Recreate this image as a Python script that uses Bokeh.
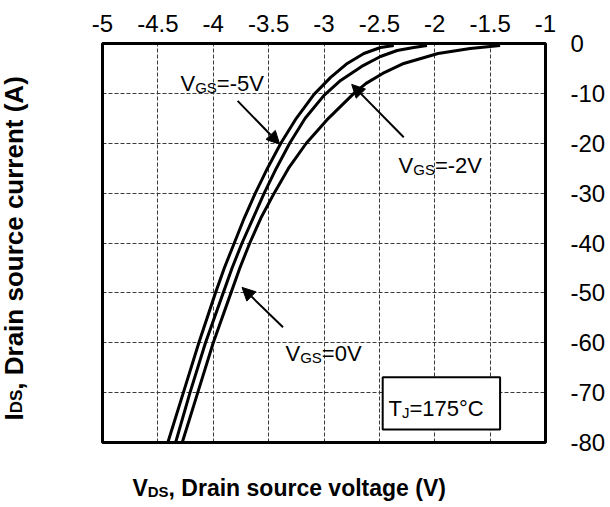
import math
from bokeh.plotting import figure
from bokeh.models import Range1d, FixedTicker, Label, Arrow, NormalHead, BoxAnnotation
from bokeh.embed import file_html
from bokeh.resources import INLINE

# ---------------- data ----------------
x_ticks = [-5.0, -4.5, -4.0, -3.5, -3.0, -2.5, -2.0, -1.5, -1.0]
x_tick_labels = ["-5", "-4.5", "-4", "-3.5", "-3", "-2.5", "-2", "-1.5", "-1"]
y_ticks = [0.0, -10.0, -20.0, -30.0, -40.0, -50.0, -60.0, -70.0, -80.0]
y_tick_labels = ["0", "-10", "-20", "-30", "-40", "-50", "-60", "-70", "-80"]

# VGS = -5 V (leftmost curve)
vgs_m5_v = [-2.37, -2.49, -2.64, -2.79, -2.94, -3.09, -3.25, -3.39, -3.51, -3.62, -3.72, -3.81, -3.90, -3.98, -4.13, -4.27, -4.41]
vgs_m5_i = [-0.4, -0.8, -2.0, -4.0, -6.8, -10.2, -15.0, -20.0, -25.0, -30.0, -35.0, -40.0, -45.0, -50.0, -60.0, -70.0, -80.0]
# VGS = -2 V (middle curve)
vgs_m2_v = [-2.07, -2.19, -2.34, -2.49, -2.66, -2.85, -3.00, -3.17, -3.31, -3.43, -3.54, -3.64, -3.74, -3.83, -3.91, -4.07, -4.21, -4.34]
vgs_m2_i = [-0.4, -0.8, -1.4, -2.6, -4.6, -7.4, -10.4, -15.0, -20.0, -25.0, -30.0, -35.0, -40.0, -45.0, -50.0, -60.0, -70.0, -80.0]
# VGS = 0 V (rightmost curve)
vgs_0_v = [-1.41, -1.68, -1.97, -2.28, -2.47, -2.62, -2.73, -2.96, -3.16, -3.32, -3.45, -3.57, -3.67, -3.76, -3.84, -4.00, -4.14, -4.28]
vgs_0_i = [-0.4, -1.0, -2.0, -4.0, -6.0, -8.0, -10.0, -15.0, -20.0, -25.0, -30.0, -35.0, -40.0, -45.0, -50.0, -60.0, -70.0, -80.0]

FONT = "Liberation Sans"

# Arial-metric character widths (per 1000 em)
W_REG = {"V": 667, "G": 778, "S": 667, "=": 584, "-": 333, ".": 278, "T": 611, "J": 500,
         "°": 400, "C": 722, " ": 278}
for d in "0123456789":
    W_REG[d] = 556
W_BOLD = {"V": 667, "D": 722, "S": 667, ",": 278, "I": 278, " ": 278, "r": 389, "a": 556,
          "i": 278, "n": 611, "s": 556, "o": 611, "u": 611, "c": 556, "e": 556, "v": 556,
          "l": 278, "t": 333, "g": 611, "(": 333, ")": 333, "A": 722}


def text_w(s, size, bold):
    table = W_BOLD if bold else W_REG
    return sum(table.get(ch, 556) for ch in s) * size / 1000.0


# layout: visual frame spans x 102..545 px and y 43..442 px of a 608x505 canvas
W, H = 608, 505
PX_PER_V = 443 / 4.0
PX_PER_A = 399 / 80.0
x_lo = -5 - 102 / PX_PER_V
y_lo = -(H - 43) / PX_PER_A
pad = 2  # extra px so the top/right border lines are not clipped
x_hi = -1 + pad / PX_PER_V
y_hi = 0 + pad / PX_PER_A

p = figure(width=W, height=H, output_backend="svg", toolbar_location=None,
           x_range=Range1d(x_lo, x_hi), y_range=Range1d(y_lo, y_hi),
           x_axis_location="above", y_axis_location="right",
           min_border_left=0, min_border_bottom=0,
           min_border_top=43 - pad, min_border_right=W - (545 + pad))
p.background_fill_color = "white"
p.border_fill_color = "white"
p.outline_line_color = None

xt = FixedTicker(ticks=x_ticks)
yt = FixedTicker(ticks=y_ticks)
p.xaxis.ticker = xt
p.yaxis.ticker = yt
p.xgrid.ticker = xt
p.ygrid.ticker = yt
p.xaxis.major_label_overrides = dict(zip(x_ticks, x_tick_labels))
p.yaxis.major_label_overrides = dict(zip(y_ticks, y_tick_labels))
for ax in p.axis:
    ax.axis_line_color = None
    ax.major_tick_line_color = None
    ax.minor_tick_line_color = None
    ax.major_tick_in = 0
    ax.major_tick_out = 0
    ax.minor_tick_in = 0
    ax.minor_tick_out = 0
    ax.major_label_text_font = FONT
    ax.major_label_text_font_size = "24px"
    ax.major_label_text_color = "black"
p.xaxis.major_label_standoff = 10
p.yaxis.major_label_standoff = 23

for g in (p.xgrid, p.ygrid):
    g.grid_line_color = "#3a3a3a"
    g.grid_line_dash = "4 2"
    g.grid_line_width = 1
p.xgrid.cross_bounds = (-80.0, 0.0)
p.ygrid.cross_bounds = (-5.0, -1.0)

for vv, ii in ((vgs_m5_v, vgs_m5_i), (vgs_m2_v, vgs_m2_i), (vgs_0_v, vgs_0_i)):
    p.line(vv, ii, line_color="black", line_width=3, line_join="round")

# visual plot frame
p.add_layout(BoxAnnotation(left=-5.0, right=-1.0, top=0.0, bottom=-80.0,
                           fill_color=None, fill_alpha=0, line_color="black", line_alpha=1.0,
                           line_width=3, level="annotation"))

# arrows
arrows = [
    (-3.78, -11.5, -3.40, -20.2),   # VGS=-5V
    (-2.28, -18.8, -2.75, -8.2),    # VGS=-2V
    (-3.37, -56.9, -3.74, -48.9),   # VGS=0V
]
for xs, ys, xe, ye in arrows:
    p.add_layout(Arrow(x_start=xs, y_start=ys, x_end=xe, y_end=ye, line_width=2, line_color="black",
                       end=NormalHead(size=13, fill_color="black", line_color="black", line_width=1)))

# T_J box
p.add_layout(BoxAnnotation(left=-2.47, right=-1.41, top=-66.9, bottom=-77.4,
                           fill_color="white", fill_alpha=1.0, line_color="black", line_alpha=1.0,
                           line_width=2, level="annotation"))

LIFT = 7  # px correction of the rendered baseline


def rich_label(x, y, parts, size, sub_size, bold=False, sub_drop=4, rotated=False, lift=LIFT):
    off = 0.0
    for txt, is_sub in parts:
        fs = sub_size if is_sub else size
        kw = dict(x=x, y=y, text=txt, text_font=FONT, text_font_size=f"{fs}px",
                  text_color="black", text_align="left", text_baseline="alphabetic",
                  text_font_style="bold" if bold else "normal")
        if rotated:
            kw.update(angle=math.pi / 2, y_offset=off, x_offset=(sub_drop if is_sub else 0) - lift)
        else:
            kw.update(x_offset=off, y_offset=(-sub_drop if is_sub else 0) + lift)
        p.add_layout(Label(**kw))
        off += text_w(txt, fs, bold)


rich_label(-4.296, -9.42, [("V", False), ("GS", True), ("=-5V", False)], 22, 15)
rich_label(-2.327, -25.87, [("V", False), ("GS", True), ("=-2V", False)], 22, 15)
rich_label(-3.348, -63.56, [("V", False), ("GS", True), ("=0V", False)], 22, 15)
rich_label(-2.418, -74.59, [("T", False), ("J", True), ("=175°C", False)], 22, 15)

# axis titles
rich_label(-4.73, -90.6, [("V", False), ("DS", True), (", Drain source voltage (V)", False)],
           23, 15, bold=True, sub_drop=3)
rich_label(-5.722, -75.6, [("I", False), ("DS", True), (", Drain source current (A)", False)],
           26, 17, bold=True, sub_drop=3, rotated=True, lift=9)

open("out.html", "w").write(file_html(p, INLINE))
